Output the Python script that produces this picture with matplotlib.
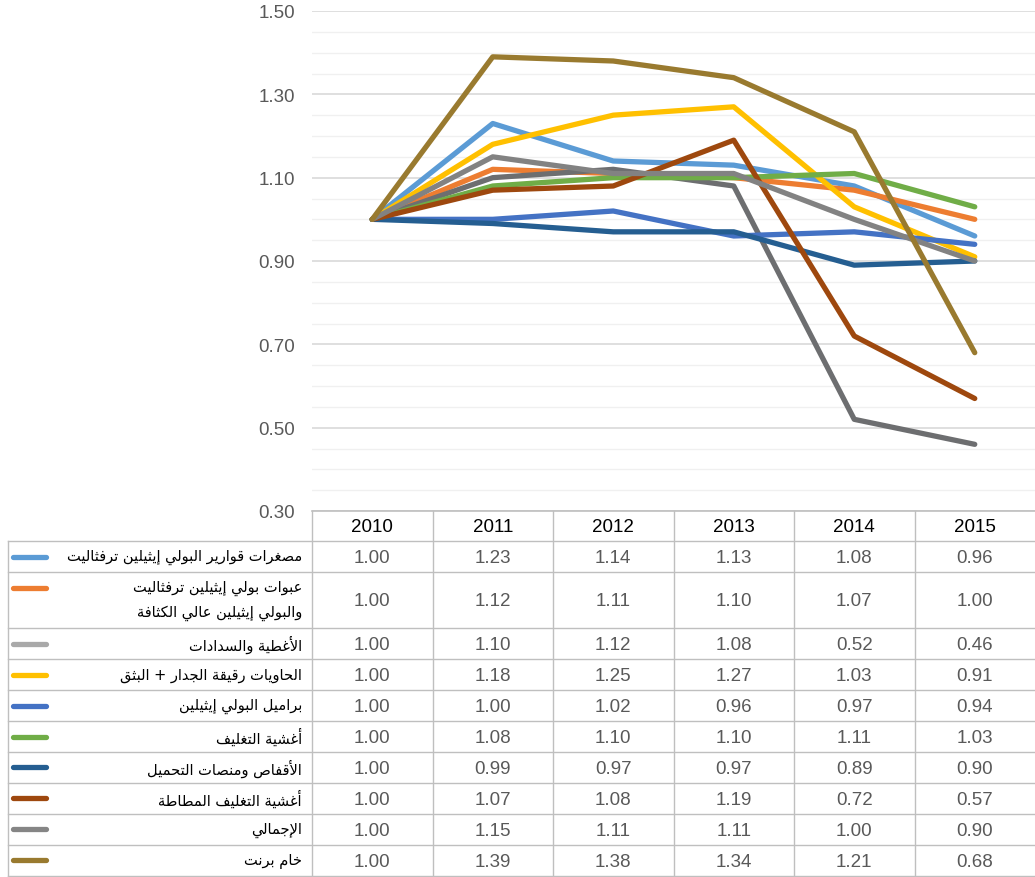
import matplotlib
matplotlib.use("Agg")
import matplotlib.pyplot as plt
import numpy as np
from matplotlib.ticker import FixedLocator, MultipleLocator, FormatStrFormatter

# data
years = ['2010', '2011', '2012', '2013', '2014', '2015']
series_names = [
    'مصغرات قوارير البولي إيثيلين ترفثاليت',
    'عبوات بولي إيثيلين ترفثاليت\nوالبولي إيثيلين عالي الكثافة',
    'الأغطية والسدادات',
    'الحاويات رقيقة الجدار + البثق',
    'براميل البولي إيثيلين',
    'أغشية التغليف',
    'الأقفاص ومنصات التحميل',
    'أغشية التغليف المطاطة',
    'الإجمالي',
    'خام برنت',
]
values = [
    [1.00, 1.23, 1.14, 1.13, 1.08, 0.96],
    [1.00, 1.12, 1.11, 1.10, 1.07, 1.00],
    [1.00, 1.10, 1.12, 1.08, 0.52, 0.46],
    [1.00, 1.18, 1.25, 1.27, 1.03, 0.91],
    [1.00, 1.00, 1.02, 0.96, 0.97, 0.94],
    [1.00, 1.08, 1.10, 1.10, 1.11, 1.03],
    [1.00, 0.99, 0.97, 0.97, 0.89, 0.90],
    [1.00, 1.07, 1.08, 1.19, 0.72, 0.57],
    [1.00, 1.15, 1.11, 1.11, 1.00, 0.90],
    [1.00, 1.39, 1.38, 1.34, 1.21, 0.68],
]
y_ticks = [0.30, 0.50, 0.70, 0.90, 1.10, 1.30, 1.50]

line_colors = ['#5B9BD5', '#ED7D31', '#6D6E70', '#FFC000', '#4472C4',
               '#70AD47', '#255E91', '#9E480E', '#828282', '#997A2F']
key_colors = ['#5B9BD5', '#ED7D31', '#A9A9A9', '#FFC000', '#4472C4',
              '#70AD47', '#255E91', '#9E480E', '#858585', '#997A2F']


# matplotlib has no arabic shaping, so map to presentation forms and reverse
DUAL = {'\u0626': 0xFE89, '\u0628': 0xFE8F, '\u062A': 0xFE95, '\u062B': 0xFE99,
        '\u062C': 0xFE9D, '\u062D': 0xFEA1, '\u062E': 0xFEA5, '\u0633': 0xFEB1,
        '\u0634': 0xFEB5, '\u0635': 0xFEB9, '\u0636': 0xFEBD, '\u0637': 0xFEC1,
        '\u0638': 0xFEC5, '\u0639': 0xFEC9, '\u063A': 0xFECD, '\u0641': 0xFED1,
        '\u0642': 0xFED5, '\u0643': 0xFED9, '\u0644': 0xFEDD, '\u0645': 0xFEE1,
        '\u0646': 0xFEE5, '\u0647': 0xFEE9, '\u064A': 0xFEF1}
RIGHT = {'\u0622': 0xFE81, '\u0623': 0xFE83, '\u0624': 0xFE85, '\u0625': 0xFE87,
         '\u0627': 0xFE8D, '\u0629': 0xFE93, '\u062F': 0xFEA9, '\u0630': 0xFEAB,
         '\u0631': 0xFEAD, '\u0632': 0xFEAF, '\u0648': 0xFEED, '\u0649': 0xFEEF}
LAM_ALEF = {'\u0622': 0xFEF5, '\u0623': 0xFEF7, '\u0625': 0xFEF9, '\u0627': 0xFEFB}


def shape_line(line):
    tokens = []
    i = 0
    while i < len(line):
        c = line[i]
        if c == '\u0644' and i + 1 < len(line) and line[i + 1] in LAM_ALEF:
            tokens.append(('R', LAM_ALEF[line[i + 1]]))
            i += 2
            continue
        if c in DUAL:
            tokens.append(('D', DUAL[c]))
        elif c in RIGHT:
            tokens.append(('R', RIGHT[c]))
        else:
            tokens.append(('N', c))
        i += 1
    out = []
    for j, (kind, base) in enumerate(tokens):
        if kind == 'N':
            out.append(base)
            continue
        prev_join = j > 0 and tokens[j - 1][0] == 'D'
        next_join = kind == 'D' and j + 1 < len(tokens) and tokens[j + 1][0] in 'DR'
        if prev_join and next_join:
            code = base + 3
        elif prev_join:
            code = base + 1
        elif next_join:
            code = base + 2
        else:
            code = base
        out.append(chr(code))
    return ''.join(out)[::-1]


def shape(text):
    return '\n'.join(shape_line(l) for l in text.split('\n'))


W, H = 1035, 878
fig = plt.figure(figsize=(W / 100, H / 100), dpi=100)

# plot area sits right above the table columns
left, top, bottom = 312, 12, 512
ax = fig.add_axes([left / W, 1 - bottom / H, (W - left) / W, (bottom - top) / H])
ax.set_xlim(-0.5, 5.5)
ax.set_ylim(y_ticks[0], y_ticks[-1])
ax.yaxis.set_major_locator(FixedLocator(y_ticks))
ax.yaxis.set_minor_locator(MultipleLocator(0.05))
ax.yaxis.set_major_formatter(FormatStrFormatter('%.2f'))
ax.grid(which='major', axis='y', color='#D9D9D9', lw=1.2)
ax.grid(which='minor', axis='y', color='#F0F0F0', lw=1.0)
ax.set_axisbelow(True)
ax.tick_params(axis='y', which='both', length=0, pad=12, labelcolor='#595959', labelsize=13.5)
for lab in ax.get_yticklabels():
    lab.set_fontfamily('Liberation Sans')
ax.set_xticks([])
for s in ax.spines.values():
    s.set_visible(False)

for vals, col in zip(values, line_colors):
    ax.plot(np.arange(len(years)), vals, color=col, lw=3.8, solid_capstyle='round',
            solid_joinstyle='round')

# data table below
tab = fig.add_axes([0, 0, 1, 1])
tab.set_xlim(0, W)
tab.set_ylim(H, 0)
tab.axis('off')
tab.patch.set_alpha(0)

grid_c = '#BFBFBF'
col_w = (W - left) / len(years)
row_heights = [31, 56, 31, 31, 31, 31, 31, 31, 31, 31]
head_top, head_bot = 512, 542
tab_left = 8
num_font = 'Liberation Sans'

row_tops = [head_bot]
for h in row_heights:
    row_tops.append(row_tops[-1] + h)

tab.plot([left, W], [head_top, head_top], color=grid_c, lw=1.2)
for y in row_tops:
    tab.plot([tab_left, W], [y, y], color=grid_c, lw=1.0)
tab.plot([tab_left, tab_left], [head_bot, row_tops[-1]], color=grid_c, lw=1.0)
for k in range(len(years)):
    x = left + k * col_w
    tab.plot([x, x], [head_top, row_tops[-1]], color=grid_c, lw=1.0)

for k, yr in enumerate(years):
    tab.text(left + (k + 0.5) * col_w, (head_top + head_bot) / 2 + 1, yr,
             ha='center', va='center', fontsize=13.5, color='black', family=num_font)

for r, (name, vals) in enumerate(zip(series_names, values)):
    y0, y1 = row_tops[r], row_tops[r + 1]
    yc = (y0 + y1) / 2
    tab.plot([13, 46], [y0 + 15.5, y0 + 15.5], color=key_colors[r], lw=3.8,
             solid_capstyle='round')
    tab.text(302, yc, shape(name), ha='right', va='center', fontsize=10.5,
             family='DejaVu Sans', color='black', linespacing=1.7)
    for k, v in enumerate(vals):
        tab.text(left + (k + 0.5) * col_w, yc + 1, f'{v:.2f}', ha='center', va='center',
                 fontsize=13.5, color='#595959', family=num_font)

fig.savefig('out.png', dpi=100)
